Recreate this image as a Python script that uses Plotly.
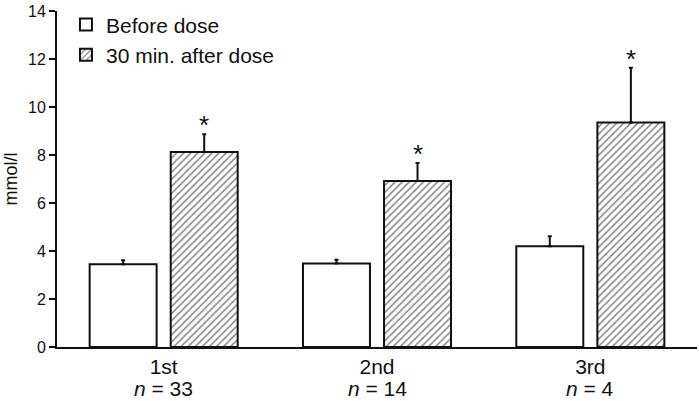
import plotly.graph_objects as go

# ---------------- data ----------------
doses = ["1st", "2nd", "3rd"]
n_counts = [33, 14, 4]
before_mean = [3.45, 3.48, 4.20]
before_err = [0.16, 0.16, 0.41]
after_mean = [8.12, 6.92, 9.35]
after_err = [0.74, 0.75, 2.29]

FONT = "Liberation Sans, Arial, sans-serif"
INK = "#111111"
BAR_W = 0.314
x_pos = list(range(len(doses)))

fig = go.Figure()
fig.add_trace(go.Bar(
    x=x_pos, y=before_mean, name="Before dose", legendgroup="a",
    width=BAR_W, offset=-0.347,
    marker=dict(color="white", line=dict(color=INK, width=2)),
    error_y=dict(type="data", symmetric=False, array=before_err, arrayminus=[0] * 3,
                 color=INK, thickness=2, width=2),
))
fig.add_trace(go.Bar(
    x=x_pos, y=after_mean, name="30 min. after dose", legendgroup="b",
    width=BAR_W, offset=0.033,
    marker=dict(color="white", line=dict(color=INK, width=2),
                pattern=dict(shape="/", fgcolor=INK, bgcolor="white", size=5, solidity=0.32)),
    error_y=dict(type="data", symmetric=False, array=after_err, arrayminus=[0] * 3,
                 color=INK, thickness=2, width=2),
))

# significance stars above the 'after' bars
for i, (m, e) in enumerate(zip(after_mean, after_err)):
    fig.add_annotation(x=i + 0.19, y=m + e, text="*", showarrow=False,
                       yanchor="bottom", yshift=-8, font=dict(size=26, color=INK, family=FONT))

# n = ... under the dose labels
for i, n in enumerate(n_counts):
    fig.add_annotation(x=i, y=0, yref="paper", text=f"<i>n</i> = {n}", showarrow=False,
                       yanchor="top", yshift=-28, font=dict(size=21, color=INK, family=FONT))

fig.update_layout(
    width=699, height=401,
    margin=dict(l=57, r=2, t=11, b=54),
    paper_bgcolor="white", plot_bgcolor="white",
    barmode="overlay",
    showlegend=True,
    legend=dict(x=0.014, y=1.02, xanchor="left", yanchor="top",
                font=dict(size=21, color=INK, family=FONT),
                bgcolor="rgba(0,0,0,0)", tracegroupgap=6, traceorder="normal"),
    font=dict(family=FONT, color=INK),
)
fig.update_xaxes(range=[-0.5, 2.5], tickvals=x_pos, ticktext=doses,
                 tickfont=dict(size=21, color=INK, family=FONT),
                 showline=True, linecolor=INK, linewidth=2, ticks="",
                 showgrid=False, zeroline=False, fixedrange=True)
fig.update_yaxes(range=[0, 14], dtick=2, tickfont=dict(size=16, color=INK, family=FONT),
                 title=dict(text="mmol/l", font=dict(size=18, color=INK, family=FONT), standoff=6),
                 showline=True, linecolor=INK, linewidth=2, ticks="outside",
                 ticklen=6, tickwidth=2, tickcolor=INK,
                 showgrid=False, zeroline=False, fixedrange=True)

fig.write_html("out.html", config={"displayModeBar": False},
               post_script="document.body.style.margin='0';")
